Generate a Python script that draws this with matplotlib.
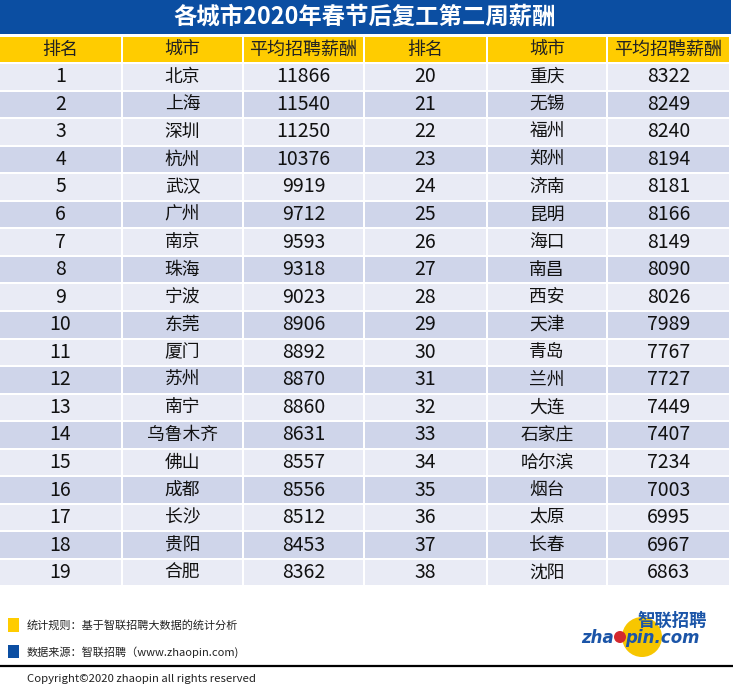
import matplotlib
matplotlib.use("Agg")
import matplotlib.pyplot as plt
from matplotlib.patches import Rectangle, Circle

plt.rcParams['font.family'] = ['Noto Sans CJK SC', 'DejaVu Sans']

title = "各城市2020年春节后复工第二周薪酬"
headers = ["排名", "城市", "平均招聘薪酬", "排名", "城市", "平均招聘薪酬"]
ranks_left = list(range(1, 20))
cities_left = ["北京", "上海", "深圳", "杭州", "武汉", "广州", "南京", "珠海", "宁波", "东莞",
               "厦门", "苏州", "南宁", "乌鲁木齐", "佛山", "成都", "长沙", "贵阳", "合肥"]
salary_left = [11866, 11540, 11250, 10376, 9919, 9712, 9593, 9318, 9023, 8906,
               8892, 8870, 8860, 8631, 8557, 8556, 8512, 8453, 8362]
ranks_right = list(range(20, 39))
cities_right = ["重庆", "无锡", "福州", "郑州", "济南", "昆明", "海口", "南昌", "西安", "天津",
                "青岛", "兰州", "大连", "石家庄", "哈尔滨", "烟台", "太原", "长春", "沈阳"]
salary_right = [8322, 8249, 8240, 8194, 8181, 8166, 8149, 8090, 8026, 7989,
                7767, 7727, 7449, 7407, 7234, 7003, 6995, 6967, 6863]
note_rule = "统计规则：基于智联招聘大数据的统计分析"
note_source = "数据来源：智联招聘（www.zhaopin.com)"
copyright_text = "Copyright©2020 zhaopin all rights reserved"

W, H = 733, 694
fig = plt.figure(figsize=(W / 100, H / 100), dpi=100)
ax = fig.add_axes([0, 0, 1, 1])
ax.set_xlim(0, W)
ax.set_ylim(H, 0)
ax.axis('off')

BLUE = "#0B4EA2"
YELLOW = "#FFCC00"
LIGHT = "#E9EBF5"
DARK = "#CFD5EA"

# title bar
ax.add_patch(Rectangle((0, 0), 731, 34, color=BLUE, lw=0))
ax.text(365, 17, title, color="white", fontsize=16.8, fontweight="bold",
        ha="center", va="center")

col_edges = [0, 123, 244, 365, 488, 608, 731]
gap = 2
# header
hy0, hh = 37, 25
for j, htxt in enumerate(headers):
    x0 = col_edges[j]
    x1 = col_edges[j + 1] - gap
    ax.add_patch(Rectangle((x0, hy0), x1 - x0, hh, color=YELLOW, lw=0))
    ax.text((x0 + x1) / 2, hy0 + hh / 2, htxt, fontsize=13, ha="center",
            va="center", color="#222222")

# rows
row_top0 = 64
row_step = 27.55
row_h = row_step - gap
for i in range(len(ranks_left)):
    y0 = row_top0 + i * row_step
    color = LIGHT if i % 2 == 0 else DARK
    vals = [str(ranks_left[i]), cities_left[i], str(salary_left[i]),
            str(ranks_right[i]), cities_right[i], str(salary_right[i])]
    for j, v in enumerate(vals):
        x0 = col_edges[j]
        x1 = col_edges[j + 1] - gap
        ax.add_patch(Rectangle((x0, y0), x1 - x0, row_h, color=color, lw=0))
        fs = 12.8 if j in (1, 4) else 14
        ax.text((x0 + x1) / 2, y0 + row_h / 2, v, fontsize=fs, ha="center",
                va="center", color="#111111")

# footer notes
ax.add_patch(Rectangle((8, 618), 11, 14, color=YELLOW, lw=0))
ax.text(27, 625, note_rule, fontsize=8, va="center", ha="left", color="#222222")
ax.add_patch(Rectangle((8, 645), 11, 13, color=BLUE, lw=0))
ax.text(27, 652, note_source, fontsize=8, va="center", ha="left", color="#222222")
ax.plot([0, W], [666, 666], color="black", lw=1.6, solid_capstyle="butt")
ax.text(27, 679, copyright_text, fontsize=8.2, va="center", ha="left", color="#222222")

# logo
ax.add_patch(Circle((642, 637), 20, color="#F7C600", lw=0))
ax.text(707, 621, "智联招聘", fontsize=12.5, fontweight="bold", color="#1B55A8",
        ha="right", va="center", style="italic")
ax.text(614, 638, "zha", fontsize=12, fontweight="bold", color="#1B55A8",
        ha="right", va="center", style="italic", family="DejaVu Sans")
ax.add_patch(Circle((620, 637), 6, color="#D3282E", lw=0))
ax.text(625, 638, "pin.com", fontsize=12, fontweight="bold", color="#1B55A8",
        ha="left", va="center", style="italic", family="DejaVu Sans")

fig.savefig("out.png", dpi=100)
